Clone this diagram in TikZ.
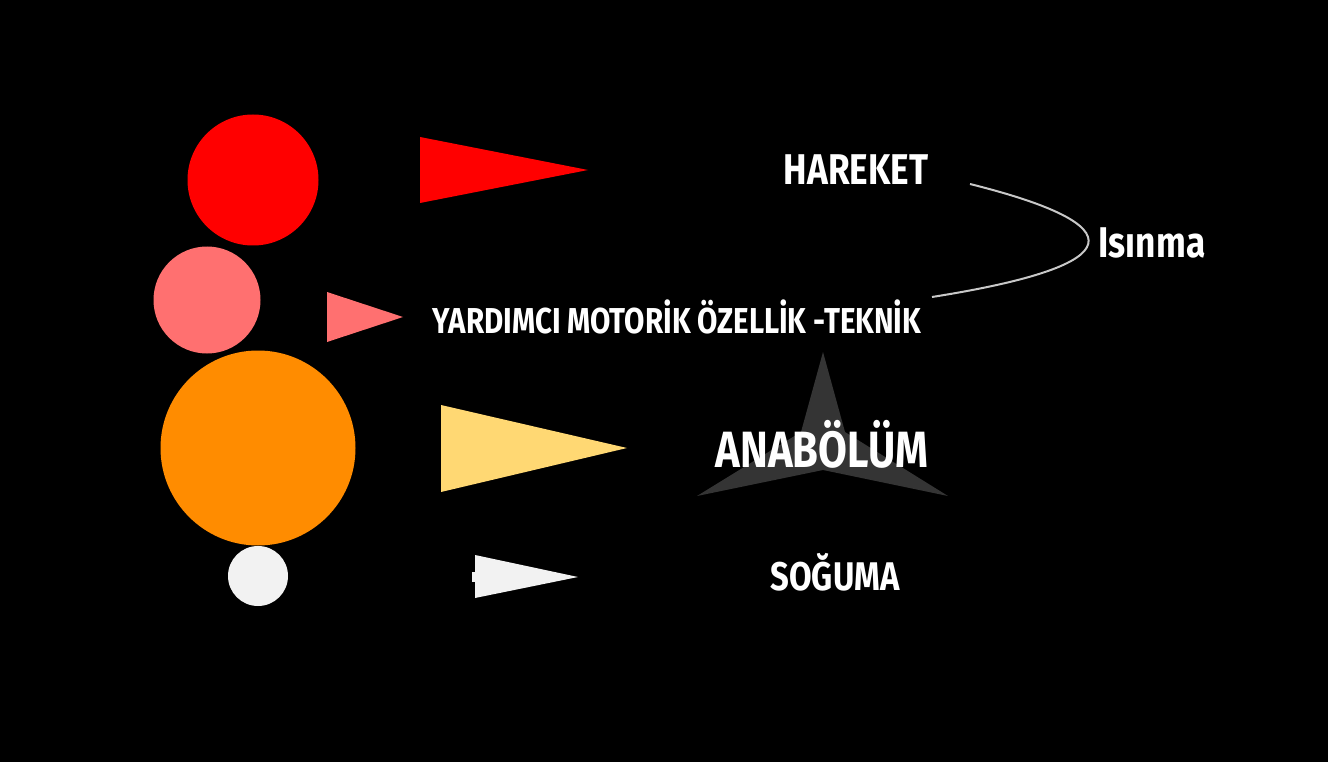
\documentclass[tikz,border=0pt]{standalone}
\usepackage{fontspec}
\setmainfont{Fira Sans}[FakeStretch=0.82]
\usetikzlibrary{positioning}
\definecolor{redc}{RGB}{255,0,0}
\definecolor{salmonc}{RGB}{255,112,112}
\definecolor{orangec}{RGB}{255,140,0}
\definecolor{yellowc}{RGB}{255,216,115}
\definecolor{whitec}{RGB}{242,242,242}
\definecolor{stargray}{RGB}{52,52,52}
\definecolor{curvegray}{RGB}{200,200,200}
\tikzset{
    word/.style={text=white, font=\bfseries, inner sep=0pt, anchor=base},
    bracket/.style={draw=curvegray, line width=2pt},
    disc/.style={circle, inner sep=0pt}
}

\begin{document}
\begin{tikzpicture}[x=1pt, y=-1pt]
    \fill[black] (0,0) rectangle (1328,762);
    \useasboundingbox (0,0) rectangle (1328,762);
    % circles
    \node[disc, fill=redc, minimum size=131pt] (red) at (253,180) {};
    \node[disc, fill=salmonc, minimum size=107pt] (salmon) at (207,300) {};
    \node[disc, fill=orangec, minimum size=195pt] (orange) at (258,448) {};
    \node[disc, fill=whitec, minimum size=60pt] (white) at (258,576) {};
    % pennants
    \fill[redc] (420,137) -- (588,170) -- (420,203) -- cycle;
    \fill[salmonc] (327,292) -- (403,317) -- (327,342) -- cycle;
    \fill[yellowc] (441,405) -- (627,448) -- (441,492) -- cycle;
    \fill[whitec] (475,555) -- (578,577) -- (475,598) -- cycle;
    \fill[whitec] (472,572) rectangle (476,582);
    % star behind the title
    \fill[stargray] (823,352) -- (845,432) -- (948,496) -- (823,470)
        -- (697,496) -- (801,432) -- cycle;
    % labels
    \node[word, font=\bfseries\fontsize{43}{43}\selectfont] (hareket) at (856,185) {HAREKET};
    \node[word, font=\bfseries\fontsize{36}{36}\selectfont] (yardimci) at (677,333) {YARDIMCI MOTORİK ÖZELLİK -TEKNİK};
    \node[word, font=\bfseries\fontsize{51}{51}\selectfont] (anabolum) at (822,467) {ANABÖLÜM};
    \node[word, font=\bfseries\fontsize{40}{40}\selectfont] (soguma) at (835,590) {SOĞUMA};
    \node[word, font=\bfseries\fontsize{43}{43}\selectfont] (isinma) at (1152,258) {Isınma};
    \coordinate (bTop) at (970,184);
    \coordinate (bBot) at (932,297);
    \draw[bracket] (bTop) .. controls (1134,225) and (1134,265) .. (bBot);
\end{tikzpicture}
\end{document}
